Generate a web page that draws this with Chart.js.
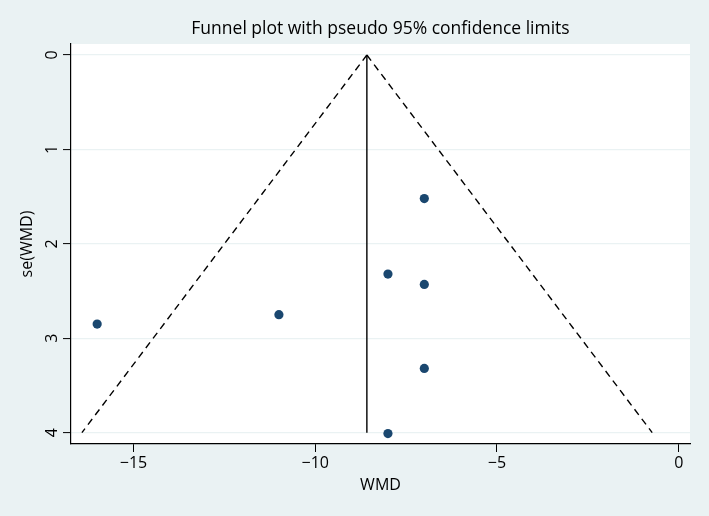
<!DOCTYPE html>
<html>
<head>
<meta charset="utf-8">
<script src="https://cdn.jsdelivr.net/npm/chart.js@4.4.1/dist/chart.umd.min.js"></script>
<style>
  html, body { margin: 0; padding: 0; background: #eaf2f3; }
  #wrap { width: 709px; height: 516px; }
</style>
</head>
<body>
<div id="wrap"><canvas id="c" width="709" height="516"></canvas></div>
<script>
// ---- data ----
const studyWMD = [-16, -11, -8, -7, -7, -7, -8];
const studySE  = [2.85, 2.75, 2.32, 1.52, 2.43, 3.32, 4.01];
const pooledWMD = -8.58;
const seRange = [0, 4];
const lowerLimitAtMaxSE = -16.42;
const upperLimitAtMaxSE = -0.73;
const xTicks = [-15, -10, -5, 0];
const xTickLabels = ['\u221215', '\u221210', '\u22125', '0'];
const yTicks = [0, 1, 2, 3, 4];
const yTickLabels = ['0', '1', '2', '3', '4'];
const titleText = 'Funnel plot with pseudo 95% confidence limits';
const xTitle = 'WMD';
const yTitle = 'se(WMD)';

const FONT = "'Open Sans', 'Noto Sans', sans-serif";

const points = studyWMD.map((x, i) => ({ x: x, y: studySE[i] }));

const plotBg = {
  id: 'plotBg',
  beforeDraw(chart) {
    const { ctx, chartArea: a } = chart;
    ctx.save();
    ctx.fillStyle = '#eaf2f3';
    ctx.fillRect(0, 0, chart.width, chart.height);
    ctx.fillStyle = '#ffffff';
    ctx.fillRect(a.left, a.top, a.right - a.left, a.bottom - a.top);
    ctx.restore();
  }
};

const xMin = -16.72, xMax = 0.31;

new Chart(document.getElementById('c'), {
  type: 'scatter',
  data: {
    datasets: [
      {
        label: 'studies',
        data: points,
        backgroundColor: '#1a476f',
        borderWidth: 0,
        pointRadius: 4.6,
        showLine: false
      },
      {
        label: 'pooled',
        data: [{ x: pooledWMD, y: seRange[0] }, { x: pooledWMD, y: seRange[1] }],
        showLine: true,
        borderColor: '#000000',
        borderWidth: 1.4,
        pointRadius: 0,
        fill: false
      },
      {
        label: 'lower',
        data: [{ x: pooledWMD, y: seRange[0] }, { x: lowerLimitAtMaxSE, y: seRange[1] }],
        showLine: true,
        borderColor: '#000000',
        borderWidth: 1.4,
        borderDash: [7, 5],
        pointRadius: 0,
        fill: false
      },
      {
        label: 'upper',
        data: [{ x: pooledWMD, y: seRange[0] }, { x: upperLimitAtMaxSE, y: seRange[1] }],
        showLine: true,
        borderColor: '#000000',
        borderWidth: 1.4,
        borderDash: [7, 5],
        pointRadius: 0,
        fill: false
      }
    ]
  },
  plugins: [plotBg],
  options: {
    responsive: false,
    animation: false,
    devicePixelRatio: 1,
    layout: { padding: { left: 0, right: 19, top: 0, bottom: 0 } },
    plugins: {
      legend: { display: false },
      tooltip: { enabled: false },
      title: { display: false }
    },
    scales: {
      top: {
        type: 'linear',
        position: 'top',
        min: xMin,
        max: xMax,
        afterFit: s => { s.height = 44; },
        grid: { display: false, drawTicks: false },
        border: { display: false },
        ticks: { display: false },
        title: {
          display: true,
          text: titleText,
          color: '#000000',
          font: { family: FONT, size: 17.5, weight: 'normal' },
          padding: { top: 19, bottom: 0 }
        }
      },
      x: {
        type: 'linear',
        position: 'bottom',
        min: xMin,
        max: xMax,
        afterBuildTicks: s => { s.ticks = xTicks.map(v => ({ value: v })); },
        afterFit: s => { s.height = 72; },
        grid: {
          drawOnChartArea: false,
          drawTicks: true,
          tickLength: 8,
          tickColor: '#000000',
          tickWidth: 1
        },
        border: { display: true, color: '#000000', width: 1.2 },
        ticks: {
          color: '#000000',
          font: { family: FONT, size: 16 },
          padding: 2,
          maxRotation: 0,
          callback: v => { const i = xTicks.indexOf(v); return i >= 0 ? xTickLabels[i] : ''; }
        },
        title: {
          display: true,
          text: xTitle,
          color: '#000000',
          font: { family: FONT, size: 16 },
          padding: { top: 0, bottom: 21 }
        }
      },
      y: {
        type: 'linear',
        reverse: true,
        min: -0.117,
        max: 4.12,
        afterBuildTicks: s => { s.ticks = yTicks.map(v => ({ value: v })); },
        afterFit: s => { s.width = 71; },
        grid: {
          drawOnChartArea: true,
          color: '#eaf2f3',
          lineWidth: 1.2,
          drawTicks: true,
          tickLength: 8,
          tickColor: '#000000',
          tickWidth: 1
        },
        border: { display: true, color: '#000000', width: 1.2 },
        ticks: {
          color: '#000000',
          font: { family: FONT, size: 16 },
          padding: 6,
          minRotation: 90,
          maxRotation: 90,
          crossAlign: 'center',
          callback: v => { const i = yTicks.indexOf(v); return i >= 0 ? yTickLabels[i] : ''; }
        },
        title: {
          display: true,
          text: yTitle,
          color: '#000000',
          font: { family: FONT, size: 16 },
          padding: { top: 18, bottom: 0 }
        }
      }
    }
  }
});
</script>
</body>
</html>
